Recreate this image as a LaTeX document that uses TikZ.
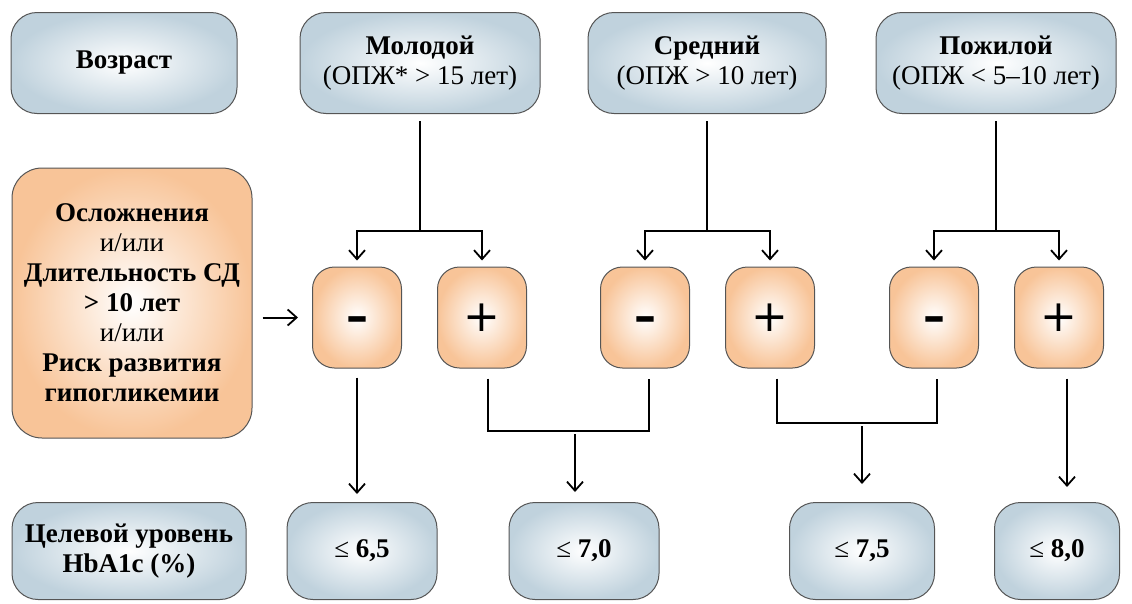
\documentclass[tikz,border=0pt]{standalone}
\usepackage{fontspec}
\setmainfont{Liberation Serif}
\newfontfamily\signfont{DejaVu Sans}
\usetikzlibrary{arrows.meta}

\definecolor{AgeBlue}{RGB}{192,210,221}
\definecolor{RiskOrange}{RGB}{248,196,152}
\definecolor{Edge}{RGB}{85,85,85}

\begin{document}
\begin{tikzpicture}
		[x=1pt,y=-1pt,
		 box/.style={draw=Edge,line width=1pt,rounded corners=26pt,inner color=white,outer color=AgeBlue,
		             align=center,inner sep=0pt,font=\fontsize{27}{30}\selectfont},
		 riskbox/.style={box,outer color=RiskOrange},
		 signbox/.style={riskbox,rounded corners=22pt,minimum width=89pt,minimum height=101pt,
		                 font=\signfont\fontsize{44}{44}\selectfont},
		 line/.style={line width=2pt},
		 arr/.style={line,-{Straight Barb[length=9pt,width=16pt,line width=1.8pt]}}]

        \useasboundingbox (0,0) rectangle (1132,603);

        % age groups
        \node[box,minimum width=226pt,minimum height=101pt] (age) at (124,63) {\textbf{Возраст}};
        \node[box,minimum width=240pt,minimum height=101pt] (young) at (420,63) {\textbf{Молодой}\\(ОПЖ* > 15 лет)};
        \node[box,minimum width=238pt,minimum height=101pt] (middle) at (707,63) {\textbf{Средний}\\(ОПЖ > 10 лет)};
        \node[box,minimum width=240pt,minimum height=101pt] (old) at (996,63) {\textbf{Пожилой}\\(ОПЖ < 5–10 лет)};

        \node[riskbox,minimum width=240pt,minimum height=270pt,rounded corners=30pt] (risk) at (132,303)
            {\textbf{Осложнения}\\и/или\\\textbf{Длительность СД}\\\textbf{> 10 лет}\\и/или\\\textbf{Риск развития}\\\textbf{гипогликемии}};

        \foreach \name/\x/\sign in {m1/357/{\bfseries –},p1/482/+,m2/645/{\bfseries –},p2/770/+,m3/934/{\bfseries –},p3/1059/+}
            \node[signbox] (\name) at (\x,317.5) {\vphantom{+}\sign};

        % targets
        \node[box,minimum width=234pt,minimum height=97pt] (target) at (129,551) {\textbf{Целевой уровень}\\\textbf{HbA1c (\%)}};
        \node[box,minimum width=150pt,minimum height=97pt] (t65) at (362,551) {≤ \textbf{6,5}};
        \node[box,minimum width=150pt,minimum height=97pt] (t70) at (584,551) {≤ \textbf{7,0}};
        \node[box,minimum width=145pt,minimum height=97pt] (t75) at (862,551) {≤ \textbf{7,5}};
        \node[box,minimum width=125pt,minimum height=97pt] (t80) at (1057,551) {≤ \textbf{8,0}};

        \coordinate (row1) at (0,231);
        \coordinate (ja) at (575,431);
        \coordinate (jb) at (862,423);

        \foreach \grp/\l/\r in {young/m1/p1,middle/m2/p2,old/m3/p3} {
            \draw[line,shorten <=7pt] (\grp.south) -- (\grp.south |- row1);
            \draw[arr,shorten >=6pt] (\grp.south |- row1) -| (\l.north);
            \draw[arr,shorten >=6pt] (\grp.south |- row1) -| (\r.north);
        }

        \draw[arr,shorten <=10pt,shorten >=14pt] (risk.east |- m1.west) -- (m1.west);

        \draw[arr,shorten <=9pt,shorten >=8pt] (m1.south) -- (m1.south |- t65.north);
        \draw[line] ([xshift=6pt,yshift=-10pt]p1.south) |- (ja) -| ([xshift=4pt,yshift=-10pt]m2.south);
        \draw[arr,shorten <=3pt,shorten >=10pt] (ja) -- (ja |- t70.north);
        \draw[line] ([xshift=7pt,yshift=-10pt]p2.south) |- (jb) -| ([xshift=3pt,yshift=-10pt]m3.south);
        \draw[arr,shorten <=3pt,shorten >=18pt] (jb) -- (jb |- t75.north);
        \draw[arr,shorten >=15pt] ([xshift=8pt,yshift=-10pt]p3.south) -- ([xshift=8pt]p3.south |- t80.north);

\end{tikzpicture}
\end{document}
